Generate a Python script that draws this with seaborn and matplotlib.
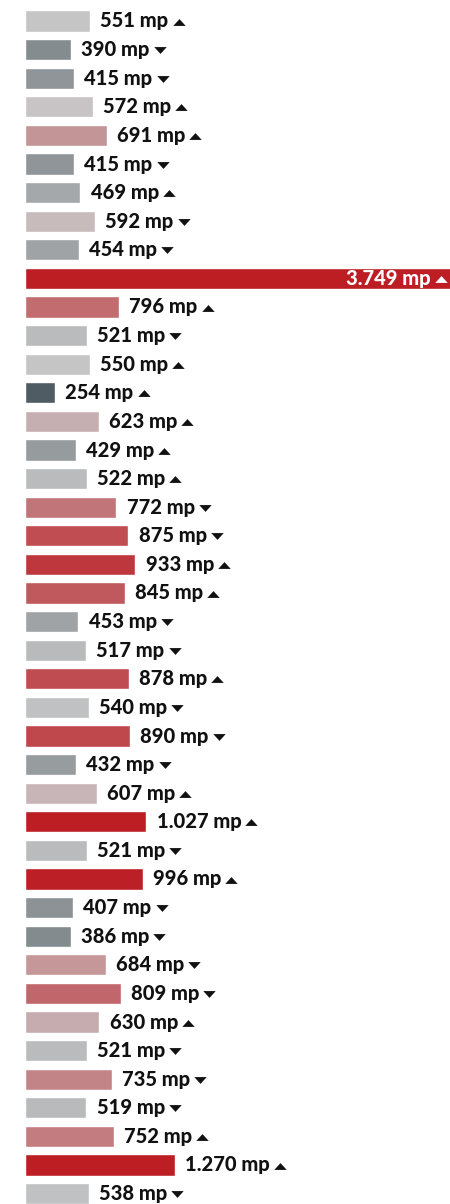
import numpy as np
import pandas as pd
import matplotlib
matplotlib.use("Agg")
import matplotlib.pyplot as plt
from matplotlib.colors import LinearSegmentedColormap, Normalize
import seaborn as sns

values = [551, 390, 415, 572, 691, 415, 469, 592, 454, 3749, 796, 521, 550, 254,
          623, 429, 522, 772, 875, 933, 845, 453, 517, 878, 540, 890, 432, 607,
          1027, 521, 996, 407, 386, 684, 809, 630, 521, 735, 519, 752, 1270, 538]
trend = ["up", "down", "down", "up", "up", "down", "up", "down", "down", "up",
         "up", "down", "up", "up", "up", "up", "up", "down", "down", "up", "up",
         "down", "down", "up", "down", "down", "down", "up", "up", "down", "up",
         "down", "down", "down", "down", "up", "down", "down", "down", "up", "up",
         "down"]

df = pd.DataFrame({"row": range(len(values)), "value": values, "trend": trend})

# diverging colour scale: dark slate -> light grey -> red
cmap = LinearSegmentedColormap.from_list(
    "mp", [(0.0, "#4f5b62"), (0.41, "#c8c8c9"), (1.0, "#bc1e24")])
norm = Normalize(vmin=250, vmax=1000, clip=True)
colors = [cmap(norm(v)) for v in values]

sns.set_theme(style="white")
plt.rcParams["font.family"] = ["Lato", "Roboto", "DejaVu Sans"]

fig = plt.figure(figsize=(4.5, 12.04), dpi=100)
ax = fig.add_axes([25 / 450, 0, 1 - 25 / 450, 1])

sns.barplot(data=df, x="value", y="row", hue="row", palette=colors,
            orient="h", legend=False, width=0.735, saturation=1, ax=ax)

n = len(values)
ax.set_xlim(0, 3600)
ax.set_ylim(n - 1 + 10.4 / 28.6, -21 / 28.6)
ax.axis("off")

# wide, flat triangles for the trend markers
tri_up = [(-1, -0.55), (1, -0.55), (0, 0.55), (-1, -0.55)]
tri_down = [(-1, 0.55), (1, 0.55), (0, -0.55), (-1, 0.55)]

labels = []
for i, v in enumerate(values):
    label = f"{v:,}".replace(",", ".") + " mp"
    if v > ax.get_xlim()[1]:
        # value runs off the chart: label sits inside the bar, white
        t = ax.annotate(label, xy=(1, i), xycoords=("axes fraction", "data"),
                        xytext=(-14, 0), textcoords="offset points",
                        ha="right", va="center", fontsize=14.5, fontweight="black",
                        color="white")
        labels.append((t, "white"))
    else:
        t = ax.annotate(label, xy=(v, i), xytext=(7.5, 0),
                        textcoords="offset points", ha="left", va="center",
                        fontsize=14.5, fontweight="black", color="#111111")
        labels.append((t, "#111111"))

fig.canvas.draw()
renderer = fig.canvas.get_renderer()
inv = ax.transData.inverted()
for i, ((t, col), tr) in enumerate(zip(labels, trend)):
    bb = t.get_window_extent(renderer)
    x_px = bb.x1 + 10
    y_px = ax.transData.transform((0, i))[1] - 0.5
    xd, yd = inv.transform((x_px, y_px))
    ax.scatter([xd], [yd], marker=tri_up if tr == "up" else tri_down,
               s=80, color=col, linewidths=0, clip_on=False, zorder=5)

fig.savefig("out.png", dpi=100)
